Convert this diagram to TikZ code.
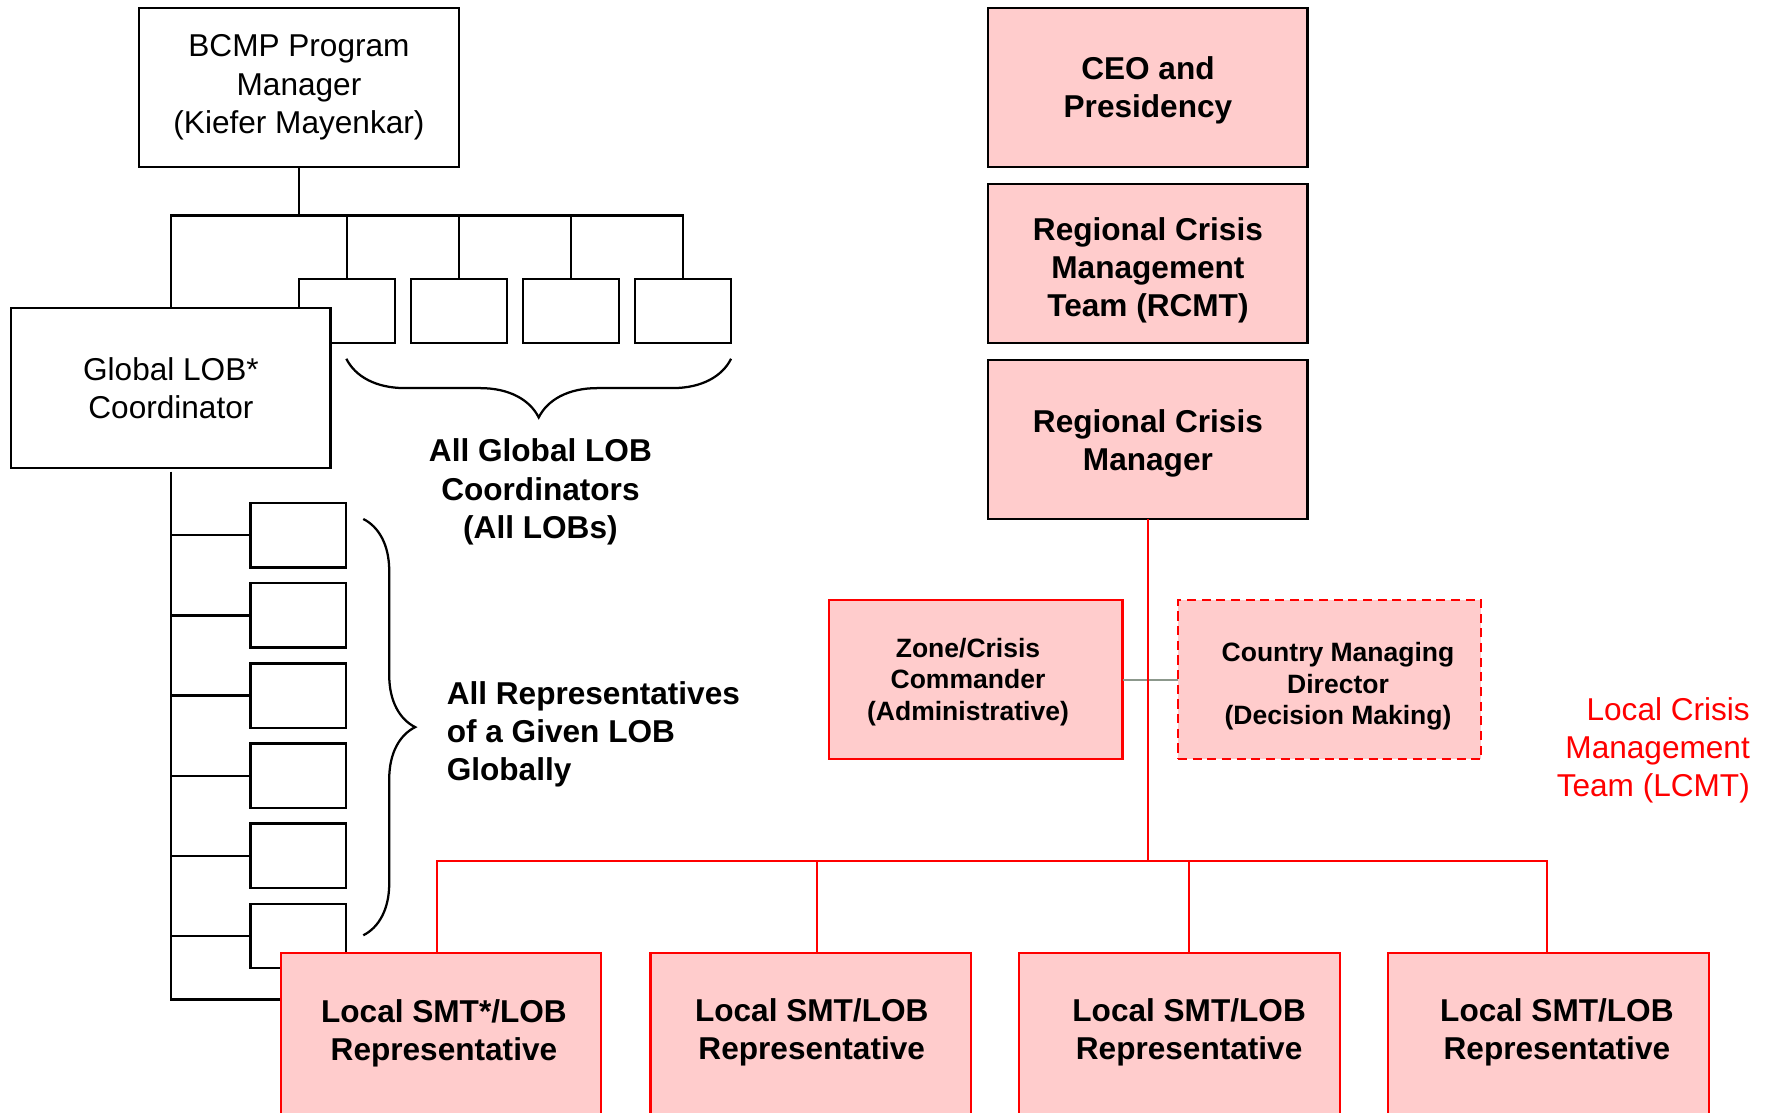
\documentclass[tikz,border=0pt]{standalone}
\usepackage{fontspec}
\setmainfont{Liberation Sans}
\usetikzlibrary{decorations.pathreplacing,calc}

\definecolor{boxpink}{RGB}{255,204,204}
\definecolor{linkgrey}{RGB}{140,152,140}

\begin{document}
\begin{tikzpicture}[x=0.5pt,y=-0.5pt,
  every node/.style={inner sep=0pt, outer sep=0pt},
  txt/.style={font=\fontsize{14}{17}\selectfont},
  btxt/.style={font=\fontsize{14}{17}\selectfont\bfseries, align=center},
  stxt/.style={font=\fontsize{11.75}{14}\selectfont\bfseries, align=center},
  plainbox/.style={draw=black, line width=1pt, fill=white, align=center, txt},
  slot/.style={draw=black, line width=1pt, fill=white, minimum width=42.5pt, minimum height=28.5pt},
  mgmtbox/.style={draw=black, line width=1pt, fill=boxpink,
                  minimum width=141.5pt, minimum height=70.5pt},
  zonebox/.style={draw=red, line width=1pt, fill=boxpink, minimum height=70.5pt},
  localbox/.style={draw=red, line width=1pt, fill=boxpink, minimum width=142pt,
                   minimum height=90pt, anchor=north},
  treeline/.style={draw=black, line width=1pt},
  redline/.style={draw=red, line width=0.9pt},
  braceline/.style={draw=black, line width=1pt, decorate},
]
\clip (0,0) rectangle (1568,986);

% ---------- global LOB structure ----------
\coordinate (tbus) at (265,191);
\coordinate (gtail) at (151.5,418);

\node[plainbox, minimum width=142pt, minimum height=70.5pt] (bcmp) at (265,77.5)
  {BCMP Program\\Manager\\(Kiefer Mayenkar)};

\node[slot] (s1) at (307.5,275.5) {};
\node[slot] (s2) at (407,275.5) {};
\node[slot] (s3) at (506,275.5) {};
\node[slot] (s4) at (605.5,275.5) {};

\node[plainbox, minimum width=141.5pt, minimum height=71pt] (glob) at (151.5,344)
  {Global LOB*\\Coordinator};

\draw[treeline] (bcmp.south) -- (tbus);
\draw[treeline] (glob.north) |- (tbus) -| (s4.north);
\draw[treeline] (s1.north) -- (s1.north |- tbus);
\draw[treeline] (s2.north) -- (s2.north |- tbus);
\draw[treeline] (s3.north) -- (s3.north |- tbus);

% representatives of one LOB
\foreach \k in {1,...,6}{
  \node[slot] (r\k) at (264.5,{474.5+71*(\k-1)}) {};
  \draw[treeline] (r\k.west -| gtail) -- (r\k.west);
}
\draw[treeline] (gtail) -- (gtail |- 0,886) -- (250,886);

% braces and their captions
\coordinate (brTopR) at (648,318);
\coordinate (brTopL) at (307,318);
\draw[braceline, decoration={brace, amplitude=26pt}] (brTopR) -- (brTopL);
\node[btxt] (allglob) at (479,436)
  {All Global LOB\\Coordinators\\(All LOBs)};

\coordinate (brSideT) at (322,460);
\coordinate (brSideB) at (322,829);
\draw[braceline, decoration={brace, amplitude=23pt}] (brSideT) -- (brSideB);
\node[btxt, align=left, anchor=west] (allrep) at (396,651)
  {All Representatives\\of a Given LOB\\Globally};

% ---------- crisis management chain ----------
\node[mgmtbox] (ceo)  at (1017.5,77.5)  {};
\node[mgmtbox] (rcmt) at (1017.5,233.5) {};
\node[mgmtbox] (rcm)  at (1017.5,389.5) {};
\node[btxt] (ceot)  at (1017.5,80)    {CEO and\\Presidency};
\node[btxt] (rcmtt) at (1017.5,239.5) {Regional Crisis\\Management\\Team (RCMT)};
\node[btxt] (rcmt2) at (1017.5,393)   {Regional Crisis\\Manager};

\node[zonebox, minimum width=130pt] (zone) at (865,602.5) {};
\node[zonebox, minimum width=134.5pt, dash pattern=on 4pt off 2.5pt] (cmd) at (1178.5,602.5) {};
\node[stxt] (zonet) at (858,604.5) {Zone/Crisis\\Commander\\(Administrative)};
\node[stxt] (cmdt)  at (1186,608.5) {Country Managing\\Director\\(Decision Making)};

\draw[draw=linkgrey, line width=1pt] (zone.east) -- (cmd.west);

\node[txt, text=red, align=right, anchor=east] (lcmt) at (1551,665)
  {Local Crisis\\Management\\Team (LCMT)};

% local representatives
\node[localbox] (smt1) at (391,845) {};
\node[localbox] (smt2) at (718.5,845) {};
\node[localbox] (smt3) at (1045.5,845) {};
\node[localbox] (smt4) at (1372.5,845) {};
\node[btxt] (smt1t) at (393.5,916) {Local SMT*/LOB\\Representative};
\node[btxt] (smt2t) at (719.5,915) {Local SMT/LOB\\Representative};
\node[btxt] (smt3t) at (1054,915) {Local SMT/LOB\\Representative};
\node[btxt] (smt4t) at (1380,915) {Local SMT/LOB\\Representative};

\coordinate (busW) at (387,763);
\coordinate (busE) at (1371,763);
\coordinate (d2) at (724,763);
\coordinate (d3) at (1054,763);
\draw[redline] (rcm.south) -- (rcm.south |- busW);
\draw[redline] (smt1.north -| busW) -- (busW) -- (busE) -- (busE |- smt4.north);
\draw[redline] (d2) -- (d2 |- smt2.north);
\draw[redline] (d3) -- (d3 |- smt3.north);
\end{tikzpicture}
\end{document}
